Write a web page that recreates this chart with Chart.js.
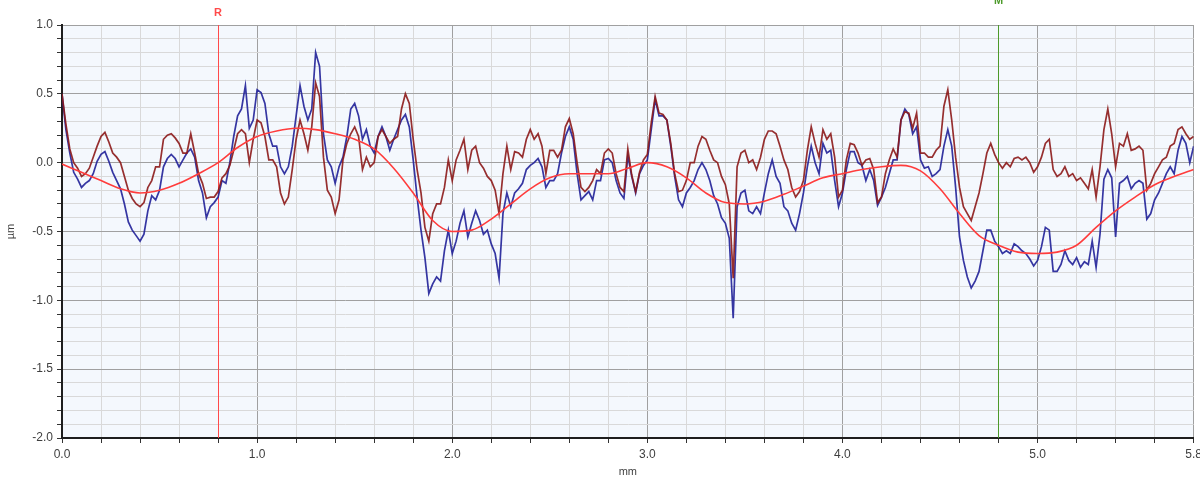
<!DOCTYPE html>
<html>
<head>
<meta charset="utf-8">
<script src="https://cdn.jsdelivr.net/npm/chart.js@4.4.1/dist/chart.umd.min.js"></script>
<style>
  html, body { margin: 0; padding: 0; background: #ffffff; overflow: hidden; }
  #wrap { width: 1200px; height: 483px; position: relative; overflow: hidden; }
  #profileChart { display: block; }
</style>
</head>
<body>
<div id="wrap"><canvas id="profileChart" width="1206" height="483"></canvas></div>
<script>
// Sampling interval of the measured traces (mm)
const sampleStepMm = 0.02;
// Sampling interval of the waviness curve (mm)
const waveStepMm = 0.1;

// Primary profile (µm), one row = 0.2 mm
const primaryProfile = [
  0.50, 0.24, 0.07, -0.07, -0.12, -0.18, -0.15, -0.13, -0.08, 0.01,
  0.06, 0.08, 0.01, -0.07, -0.13, -0.19, -0.30, -0.43, -0.49, -0.53,
  -0.57, -0.52, -0.35, -0.24, -0.27, -0.20, -0.03, 0.03, 0.06, 0.03,
  -0.03, 0.02, 0.07, 0.10, 0.04, -0.13, -0.22, -0.40, -0.32, -0.29,
  -0.25, -0.13, -0.15, 0.00, 0.19, 0.34, 0.39, 0.56, 0.25, 0.31,
  0.53, 0.51, 0.43, 0.21, 0.12, 0.12, -0.03, -0.08, -0.03, 0.12,
  0.34, 0.56, 0.41, 0.31, 0.39, 0.80, 0.70, 0.21, 0.02, -0.03,
  -0.15, -0.03, 0.04, 0.19, 0.39, 0.43, 0.34, 0.17, 0.24, 0.12,
  0.07, 0.19, 0.26, 0.19, 0.09, 0.17, 0.24, 0.31, 0.35, 0.26,
  0.02, -0.25, -0.49, -0.69, -0.95, -0.88, -0.83, -0.86, -0.64, -0.49,
  -0.66, -0.57, -0.44, -0.35, -0.54, -0.44, -0.35, -0.42, -0.52, -0.49,
  -0.59, -0.66, -0.84, -0.37, -0.22, -0.32, -0.22, -0.19, -0.15, -0.05,
  -0.02, 0.00, 0.03, -0.03, -0.18, -0.13, -0.13, -0.08, 0.07, 0.19,
  0.26, 0.17, -0.08, -0.27, -0.24, -0.21, -0.27, -0.13, -0.13, 0.02,
  0.03, 0.00, -0.13, -0.22, -0.26, 0.05, -0.10, -0.22, -0.08, -0.02,
  0.02, 0.24, 0.46, 0.34, 0.34, 0.31, 0.12, -0.10, -0.27, -0.32,
  -0.22, -0.18, -0.13, -0.05, 0.00, -0.05, -0.13, -0.24, -0.30, -0.40,
  -0.44, -0.55, -1.13, -0.32, -0.22, -0.20, -0.35, -0.37, -0.32, -0.37,
  -0.22, -0.08, 0.02, -0.10, -0.15, -0.32, -0.35, -0.44, -0.49, -0.37,
  -0.22, -0.03, 0.12, 0.00, -0.08, 0.14, 0.07, 0.09, -0.13, -0.32,
  -0.22, -0.05, 0.08, 0.08, 0.00, -0.02, -0.13, -0.05, -0.13, -0.31,
  -0.25, -0.18, -0.08, 0.02, 0.02, 0.31, 0.39, 0.35, 0.21, 0.26,
  0.02, -0.04, -0.03, -0.10, -0.08, -0.05, 0.12, 0.24, 0.12, -0.18,
  -0.54, -0.71, -0.83, -0.91, -0.86, -0.79, -0.64, -0.49, -0.49, -0.57,
  -0.61, -0.66, -0.64, -0.66, -0.59, -0.61, -0.64, -0.66, -0.70, -0.75,
  -0.71, -0.61, -0.47, -0.49, -0.79, -0.79, -0.74, -0.64, -0.71, -0.74,
  -0.69, -0.76, -0.72, -0.74, -0.57, -0.76, -0.52, -0.12, -0.05, -0.11,
  -0.54, -0.15, -0.13, -0.10, -0.19, -0.15, -0.13, -0.15, -0.41, -0.37,
  -0.27, -0.22, -0.15, -0.08, -0.03, -0.08, 0.09, 0.19, 0.14, 0.00,
  0.12
];

// Roughness profile (µm), one row = 0.2 mm
const roughnessProfile = [
  0.50, 0.28, 0.10, 0.00, -0.04, -0.10, -0.08, -0.04, 0.04, 0.12,
  0.19, 0.22, 0.15, 0.07, 0.04, 0.00, -0.10, -0.20, -0.26, -0.30,
  -0.32, -0.29, -0.18, -0.13, -0.03, -0.03, 0.17, 0.20, 0.21, 0.18,
  0.14, 0.07, 0.07, 0.21, 0.07, -0.08, -0.15, -0.26, -0.25, -0.25,
  -0.21, -0.11, -0.08, -0.02, 0.09, 0.21, 0.24, 0.21, 0.00, 0.17,
  0.31, 0.29, 0.19, 0.02, 0.02, -0.03, -0.22, -0.30, -0.25, -0.05,
  0.17, 0.31, 0.21, 0.09, 0.26, 0.58, 0.48, 0.04, -0.20, -0.25,
  -0.37, -0.27, 0.02, 0.14, 0.21, 0.26, 0.19, -0.05, 0.04, -0.03,
  0.00, 0.19, 0.24, 0.19, 0.14, 0.17, 0.19, 0.39, 0.50, 0.43,
  0.17, -0.05, -0.22, -0.47, -0.57, -0.37, -0.30, -0.30, -0.18, 0.02,
  -0.13, 0.02, 0.09, 0.17, -0.05, 0.09, 0.12, 0.00, -0.04, -0.10,
  -0.13, -0.20, -0.37, -0.08, 0.12, -0.05, 0.08, 0.07, 0.04, 0.17,
  0.24, 0.17, 0.21, 0.12, -0.08, 0.09, 0.09, 0.04, 0.09, 0.26,
  0.32, 0.21, 0.00, -0.18, -0.21, -0.18, -0.13, -0.05, -0.08, 0.07,
  0.10, 0.07, -0.08, -0.18, -0.21, 0.10, -0.09, -0.21, -0.07, 0.02,
  0.06, 0.29, 0.48, 0.36, 0.35, 0.31, 0.14, -0.08, -0.21, -0.20,
  -0.13, 0.00, 0.00, 0.12, 0.19, 0.17, 0.09, 0.02, 0.00, -0.10,
  -0.16, -0.30, -0.84, -0.03, 0.07, 0.09, 0.00, 0.02, -0.05, 0.04,
  0.17, 0.23, 0.23, 0.21, 0.12, 0.02, -0.05, -0.18, -0.25, -0.21,
  -0.13, 0.09, 0.26, 0.14, 0.04, 0.24, 0.17, 0.21, 0.04, -0.25,
  -0.20, 0.02, 0.14, 0.13, 0.07, -0.02, 0.02, 0.03, -0.05, -0.29,
  -0.25, -0.08, 0.02, 0.10, 0.04, 0.31, 0.37, 0.36, 0.25, 0.36,
  0.07, 0.07, 0.04, 0.04, 0.09, 0.12, 0.41, 0.53, 0.31, 0.04,
  -0.18, -0.32, -0.37, -0.42, -0.32, -0.22, -0.08, 0.07, 0.14, 0.06,
  0.00, -0.04, 0.00, -0.03, 0.03, 0.04, 0.02, 0.04, 0.00, -0.07,
  -0.03, 0.04, 0.14, 0.17, -0.05, -0.10, -0.08, -0.03, -0.10, -0.08,
  -0.13, -0.11, -0.15, -0.19, -0.05, -0.25, -0.03, 0.24, 0.39, 0.21,
  -0.03, 0.14, 0.12, 0.21, 0.09, 0.10, 0.12, 0.09, -0.20, -0.15,
  -0.08, -0.03, 0.02, 0.04, 0.12, 0.14, 0.24, 0.26, 0.21, 0.17,
  0.19
];

// Waviness mean line (µm), every 0.1 mm
const wavinessLine = [
  -0.01, -0.07, -0.13, -0.19, -0.22, -0.20, -0.15, -0.08, 0.00, 0.11,
  0.19, 0.23, 0.25, 0.24, 0.21, 0.17, 0.10, -0.04, -0.22, -0.42,
  -0.50, -0.49, -0.41, -0.30, -0.19, -0.11, -0.08, -0.08, -0.08, -0.04,
  0.00, -0.03, -0.11, -0.22, -0.29, -0.30, -0.28, -0.23, -0.17, -0.11,
  -0.08, -0.05, -0.03, -0.02, -0.06, -0.19, -0.37, -0.53, -0.60, -0.65,
  -0.66, -0.65, -0.60, -0.47, -0.35, -0.25, -0.16, -0.10, -0.05
];

// Cursor markers (mm)
const cursorLabels = ['R', 'M'];
const cursorPositions = [0.8, 4.8];
const cursorColors = ['#ff4a4a', '#4c9a2a'];

// Axis setup
const xRange = [0, 5.8];
const yRange = [-2.0, 1.0];
const xTitle = 'mm';
const yTitle = 'µm';

const toPoints = (values, step) =>
  values.map((v, i) => ({ x: Math.round(i * step * 100) / 100, y: v }));

const fontFamily = '"Liberation Sans", Arial, sans-serif';
const tickFont = { family: fontFamily, size: 12 };
const tickColor = '#3f3f3f';
const majorGrid = '#a0a0a0';
const minorGrid = '#d9d9d9';
const near = (a, b) => Math.abs(a - b) < 1e-6;

const plotBackground = {
  id: 'plotBackground',
  beforeDraw(chart) {
    const { ctx, chartArea: a } = chart;
    ctx.save();
    ctx.fillStyle = '#f4f8fd';
    ctx.fillRect(a.left, a.top, a.right - a.left, a.bottom - a.top);
    ctx.restore();
  }
};

// Vertical cursor lines sit exactly on the grid line pixel of their position
const cursors = {
  id: 'cursors',
  beforeDatasetsDraw(chart) {
    const { ctx, chartArea: a, scales } = chart;
    ctx.save();
    cursorPositions.forEach((mm, i) => {
      const px = Math.round(scales.x.getPixelForValue(mm) - 0.5) + 0.5;
      ctx.strokeStyle = cursorColors[i];
      ctx.lineWidth = 1;
      ctx.beginPath();
      ctx.moveTo(px, a.top);
      ctx.lineTo(px, a.bottom);
      ctx.stroke();
    });
    ctx.restore();
  },
  afterDraw(chart) {
    const { ctx, scales } = chart;
    ctx.save();
    ctx.font = 'bold 11px ' + fontFamily;
    ctx.textAlign = 'center';
    ctx.textBaseline = 'alphabetic';
    const baselines = [16, 4];
    cursorPositions.forEach((mm, i) => {
      const px = scales.x.getPixelForValue(mm);
      ctx.fillStyle = cursorColors[i];
      ctx.fillText(cursorLabels[i], px, baselines[i]);
    });
    ctx.restore();
  }
};

new Chart(document.getElementById('profileChart'), {
  type: 'line',
  data: {
    datasets: [
      {
        label: 'Waviness',
        data: toPoints(wavinessLine, waveStepMm),
        borderColor: '#ff3c3c',
        borderWidth: 1.6,
        cubicInterpolationMode: 'monotone',
        pointRadius: 0,
        order: 0
      },
      {
        label: 'Roughness',
        data: toPoints(roughnessProfile, sampleStepMm),
        borderColor: 'rgba(140, 24, 24, 0.9)',
        borderWidth: 1.7,
        tension: 0,
        pointRadius: 0,
        order: 1
      },
      {
        label: 'Primary',
        data: toPoints(primaryProfile, sampleStepMm),
        borderColor: 'rgba(32, 32, 152, 0.9)',
        borderWidth: 1.7,
        tension: 0,
        pointRadius: 0,
        order: 2
      }
    ]
  },
  options: {
    responsive: false,
    animation: false,
    layout: { padding: { top: 25, right: 0, left: 0, bottom: 0 } },
    plugins: { legend: { display: false }, tooltip: { enabled: false } },
    scales: {
      x: {
        type: 'linear',
        min: xRange[0],
        max: xRange[1],
        ticks: {
          stepSize: 0.2,
          autoSkip: false,
          maxRotation: 0,
          padding: 4,
          font: tickFont,
          color: tickColor,
          callback: (v) => (near(v, Math.round(v)) || near(v, xRange[1])) ? (Math.abs(v) < 1e-9 ? 0 : v).toFixed(1) : ''
        },
        grid: {
          color: (c) => (near(c.tick.value, Math.round(c.tick.value)) || near(c.tick.value, xRange[1])) ? majorGrid : minorGrid,
          tickColor: '#333333',
          tickLength: 5,
          lineWidth: 1
        },
        border: { display: true, color: '#1e1e1e', width: 2 },
        title: {
          display: true,
          text: xTitle,
          font: { family: fontFamily, size: 11 },
          color: tickColor,
          padding: { top: 2, bottom: 4 }
        },
        afterFit(scale) { scale.height = 45; }
      },
      y: {
        min: yRange[0],
        max: yRange[1],
        ticks: {
          stepSize: 0.1,
          autoSkip: false,
          padding: 4,
          font: tickFont,
          color: tickColor,
          callback: (v) => near(v * 2, Math.round(v * 2)) ? (Math.abs(v) < 1e-9 ? 0 : v).toFixed(1) : ''
        },
        grid: {
          color: (c) => near(c.tick.value * 2, Math.round(c.tick.value * 2)) ? majorGrid : minorGrid,
          tickColor: '#333333',
          tickLength: 5,
          lineWidth: 1
        },
        border: { display: true, color: '#1e1e1e', width: 2 },
        title: {
          display: true,
          text: yTitle,
          font: { family: fontFamily, size: 11 },
          color: tickColor,
          padding: { top: 4, bottom: 0 }
        },
        afterFit(scale) { scale.width = 62; }
      }
    }
  },
  plugins: [plotBackground, cursors]
});
</script>
</body>
</html>
